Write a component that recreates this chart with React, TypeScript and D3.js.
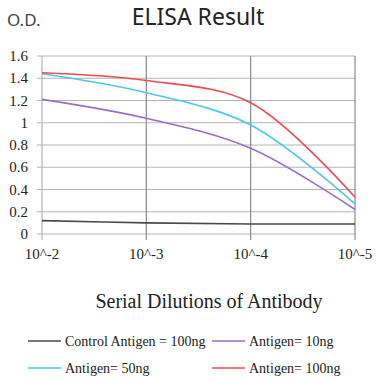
import React, { useEffect, useRef } from 'react';
import * as d3 from 'd3';

const dilutions = ['10^-2', '10^-3', '10^-4', '10^-5'];
const yTicks = [0, 0.2, 0.4, 0.6, 0.8, 1, 1.2, 1.4, 1.6];

const control100 = [0.12, 0.1, 0.09, 0.09];
const antigen10 = [1.21, 1.04, 0.77, 0.22];
const antigen50 = [1.44, 1.27, 0.98, 0.27];
const antigen100 = [1.45, 1.38, 1.18, 0.33];

const seriesNames = ['Control Antigen = 100ng', 'Antigen= 10ng', 'Antigen= 50ng', 'Antigen= 100ng'];
const seriesColors = ['#4a4a4a', '#9b6dc9', '#4cc6ef', '#ef4b52'];

const App = () => {
  const svgRef = useRef<SVGSVGElement>(null);

  useEffect(() => {
    const width = 377;
    const height = 378;
    const svg = d3.select(svgRef.current).attr('width', width).attr('height', height);
    svg.selectAll('*').remove();

    const serif = "'Liberation Serif', serif";
    const sans = "'Noto Sans', sans-serif";

    const x = d3.scalePoint<string>().domain(dilutions).range([42, 355]);
    const y = d3.scaleLinear().domain([0, 1.6]).range([234, 56]);

    // grid
    svg.append('g')
      .selectAll('line')
      .data(yTicks)
      .enter()
      .append('line')
      .attr('x1', 37)
      .attr('x2', 355)
      .attr('y1', d => y(d))
      .attr('y2', d => y(d))
      .attr('stroke', '#b4b4b4')
      .attr('stroke-width', 1.2);

    svg.append('g')
      .selectAll('line')
      .data(dilutions)
      .enter()
      .append('line')
      .attr('x1', d => x(d)!)
      .attr('x2', d => x(d)!)
      .attr('y1', y(1.6))
      .attr('y2', y(0) + 6)
      .attr('stroke', d => (d === dilutions[0] ? '#b4b4b4' : '#8a8a8a'))
      .attr('stroke-width', 1.2);

    // tick labels
    svg.append('g')
      .selectAll('text')
      .data(yTicks)
      .enter()
      .append('text')
      .attr('x', 28)
      .attr('y', d => y(d) + 5)
      .attr('text-anchor', 'end')
      .style('font-family', serif)
      .style('font-size', '15px')
      .attr('fill', '#222')
      .text(d => String(d));

    svg.append('g')
      .selectAll('text')
      .data(dilutions)
      .enter()
      .append('text')
      .attr('x', d => x(d)!)
      .attr('y', 259)
      .attr('text-anchor', 'middle')
      .style('font-family', serif)
      .style('font-size', '15px')
      .attr('fill', '#222')
      .text(d => d);

    // lines
    const series = [control100, antigen10, antigen50, antigen100];
    const line = d3.line<number>()
      .x((_, i) => x(dilutions[i])!)
      .y(d => y(d))
      .curve(d3.curveCatmullRom.alpha(0.5));

    series.forEach((s, i) => {
      svg.append('path')
        .attr('d', line(s))
        .attr('fill', 'none')
        .attr('stroke', seriesColors[i])
        .attr('stroke-width', 1.6);
    });

    // titles
    svg.append('text')
      .attr('x', 198)
      .attr('y', 25)
      .attr('text-anchor', 'middle')
      .style('font-family', sans)
      .style('font-size', '23px')
      .attr('fill', '#222')
      .text('ELISA Result');

    svg.append('text')
      .attr('x', 7)
      .attr('y', 26)
      .style('font-family', sans)
      .style('font-size', '17px')
      .attr('fill', '#444')
      .text('O.D.');

    svg.append('text')
      .attr('x', 209)
      .attr('y', 308)
      .attr('text-anchor', 'middle')
      .style('font-family', serif)
      .style('font-size', '20px')
      .attr('fill', '#222')
      .text('Serial Dilutions of Antibody');

    // legend
    const legendPos = [[28, 341], [212, 341], [28, 368], [212, 368]];
    seriesNames.forEach((name, i) => {
      const [lx, ly] = legendPos[i];
      svg.append('line')
        .attr('x1', lx)
        .attr('x2', lx + 33)
        .attr('y1', ly)
        .attr('y2', ly)
        .attr('stroke', seriesColors[i])
        .attr('stroke-width', 1.6);
      svg.append('text')
        .attr('x', lx + 37)
        .attr('y', ly + 5)
        .style('font-family', serif)
        .style('font-size', '14px')
        .attr('fill', '#222')
        .text(name);
    });
  }, []);

  return <svg ref={svgRef} style={{ position: 'absolute', left: 0, top: 0 }}></svg>;
};

export default App;
